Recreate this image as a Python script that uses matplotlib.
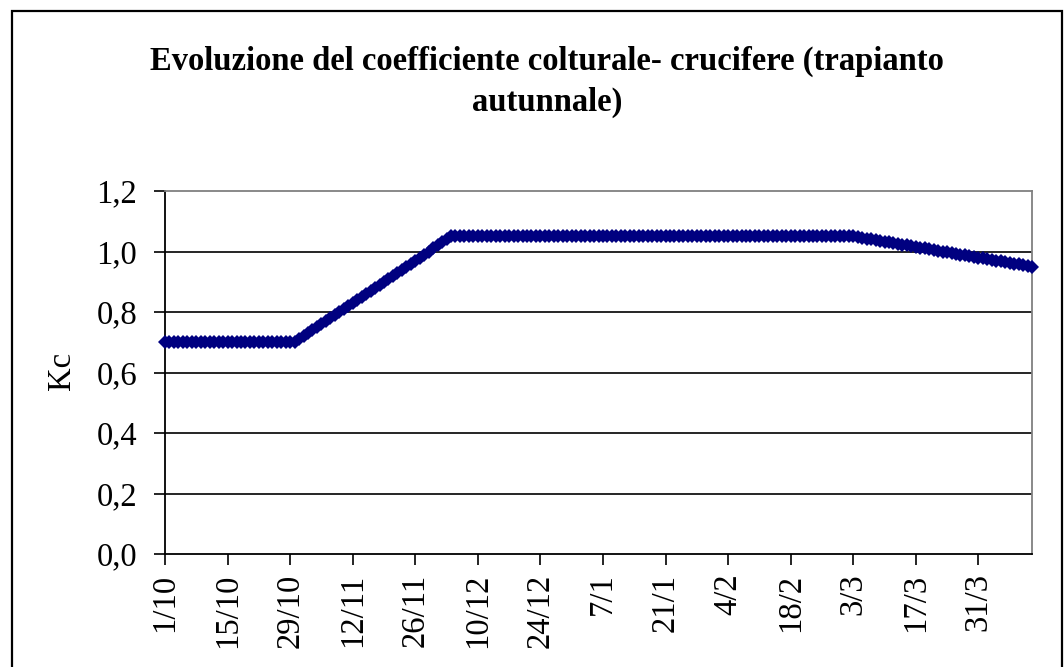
import pandas as pd
import matplotlib
matplotlib.use("Agg")
from matplotlib import pyplot as plt
from matplotlib.patches import Rectangle

# Kc giornaliero dal 1/10 al 12/4
kc_flat_start = [0.70, 0.70, 0.70, 0.70, 0.70, 0.70, 0.70, 0.70, 0.70, 0.70,
                 0.70, 0.70, 0.70, 0.70, 0.70, 0.70, 0.70, 0.70, 0.70, 0.70,
                 0.70, 0.70, 0.70, 0.70, 0.70, 0.70, 0.70, 0.70, 0.70, 0.70]
kc_rise = [0.71, 0.72, 0.73, 0.74, 0.75, 0.76, 0.77, 0.78, 0.79, 0.80,
           0.81, 0.82, 0.83, 0.84, 0.85, 0.86, 0.87, 0.88, 0.89, 0.90,
           0.91, 0.92, 0.93, 0.94, 0.95, 0.96, 0.97, 0.98, 0.99, 1.00,
           1.01, 1.02, 1.03, 1.04, 1.05]
kc_flat_mid = [1.05, 1.05, 1.05, 1.05, 1.05, 1.05, 1.05, 1.05, 1.05, 1.05,
               1.05, 1.05, 1.05, 1.05, 1.05, 1.05, 1.05, 1.05, 1.05, 1.05,
               1.05, 1.05, 1.05, 1.05, 1.05, 1.05, 1.05, 1.05, 1.05, 1.05,
               1.05, 1.05, 1.05, 1.05, 1.05, 1.05, 1.05, 1.05, 1.05, 1.05,
               1.05, 1.05, 1.05, 1.05, 1.05, 1.05, 1.05, 1.05, 1.05, 1.05,
               1.05, 1.05, 1.05, 1.05, 1.05, 1.05, 1.05, 1.05, 1.05, 1.05,
               1.05, 1.05, 1.05, 1.05, 1.05, 1.05, 1.05, 1.05, 1.05, 1.05,
               1.05, 1.05, 1.05, 1.05, 1.05, 1.05, 1.05, 1.05, 1.05, 1.05,
               1.05, 1.05, 1.05, 1.05, 1.05, 1.05, 1.05, 1.05, 1.05, 1.05]
kc_decline = [1.0475, 1.045, 1.0425, 1.04, 1.0375, 1.035, 1.0325, 1.03,
              1.0275, 1.025, 1.0225, 1.02, 1.0175, 1.015, 1.0125, 1.01,
              1.0075, 1.005, 1.0025, 1.00, 0.9975, 0.995, 0.9925, 0.99,
              0.9875, 0.985, 0.9825, 0.98, 0.9775, 0.975, 0.9725, 0.97,
              0.9675, 0.965, 0.9625, 0.96, 0.9575, 0.955, 0.9525, 0.95]
kc = kc_flat_start + kc_rise + kc_flat_mid + kc_decline

dates = pd.date_range("2003-10-01", periods=len(kc), freq="D")
date_labels = ["%d/%d" % (d.day, d.month) for d in dates]
tick_step = 14

y_ticks = [0.0, 0.2, 0.4, 0.6, 0.8, 1.0, 1.2]

serif = "Liberation Serif"
navy = "#000080"

fig = plt.figure(figsize=(10.64, 6.67), dpi=100)

# cornice esterna del grafico
fig.patches.append(Rectangle((12 / 1064, -0.05), 1050 / 1064, 1.05 - 11 / 667,
                             transform=fig.transFigure, fill=False,
                             edgecolor="black", linewidth=1.6))

ax = fig.add_axes([165 / 1064, 113 / 667, 867 / 1064, 363 / 667])

x = list(range(len(kc)))
ax.plot(x, kc, color=navy, linewidth=2, marker="D", markersize=7,
        markeredgewidth=0, markerfacecolor=navy, zorder=3, clip_on=False)

ax.set_xlim(0, len(kc) - 1)
ax.set_ylim(0, 1.2)

ax.set_yticks(y_ticks)
ax.set_yticklabels([("%.1f" % v).replace(".", ",") for v in y_ticks],
                   fontfamily=serif, fontsize=23.5)
xt = x[::tick_step]
ax.set_xticks(xt)
ax.set_xticklabels([date_labels[i] for i in xt], rotation=90,
                   fontfamily=serif, fontsize=23.5)

ax.tick_params(axis="both", direction="out", length=8, width=1.2,
               color="black")
ax.tick_params(axis="y", pad=12)
ax.tick_params(axis="x", pad=6)

for v in y_ticks[1:-1]:
    ax.axhline(v, color="black", linewidth=1.2, zorder=1)

ax.spines["left"].set_color("black")
ax.spines["bottom"].set_color("black")
ax.spines["left"].set_linewidth(1.3)
ax.spines["bottom"].set_linewidth(1.3)
ax.spines["top"].set_color("#808080")
ax.spines["right"].set_color("#808080")
ax.spines["top"].set_linewidth(1.3)
ax.spines["right"].set_linewidth(1.3)

fig.text(62 / 1064, 1 - 371 / 667, "Kc", rotation=90, ha="center",
         va="center", fontfamily=serif, fontsize=23.5)

fig.text(547 / 1064, 1 - 61 / 667,
         "Evoluzione del coefficiente colturale- crucifere (trapianto",
         ha="center", va="center", fontfamily=serif, fontsize=23.5,
         fontweight="bold")
fig.text(547 / 1064, 1 - 102 / 667, "autunnale)",
         ha="center", va="center", fontfamily=serif, fontsize=23.5,
         fontweight="bold")

fig.savefig("out.png", dpi=100)
